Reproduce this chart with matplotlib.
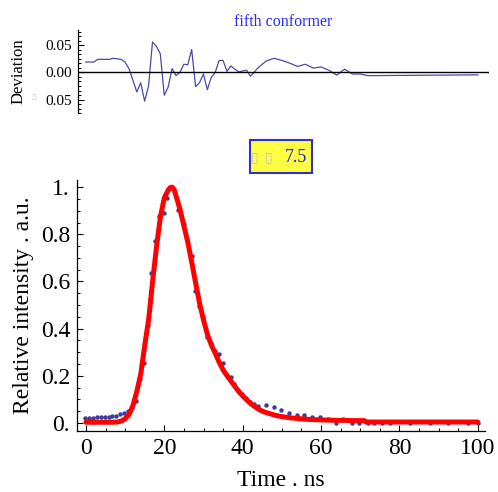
import matplotlib
matplotlib.use("Agg")
import matplotlib.pyplot as plt
from matplotlib.ticker import MultipleLocator
from matplotlib.patches import Rectangle

plt.rcParams['font.family'] = ['Liberation Serif', 'DejaVu Sans']

t_data = [-0.25, 0.75, 1.75, 2.75, 3.75, 4.75, 5.75, 6.75, 7.75, 8.75, 9.75, 10.75,
          11.75, 12.8, 13.75, 14.7, 15.7, 16.5, 17.7, 18.6, 19.8, 20.6, 21.8,
          22.9, 23.6, 24.9, 25.9, 27.0, 27.7, 28.8, 29.8, 30.9, 31.8, 33.0, 33.9,
          34.9, 35.9, 36.9, 37.9, 38.9, 39.9, 40.9, 41.9, 42.9, 43.9,
          45.9, 47.9, 49.8, 51.8, 53.8, 55.7, 57.7, 59.7, 61.7, 63.7, 65.7, 67.8, 69.8,
          71.9, 73.5, 75.5, 77.6, 82.7, 87.8, 92.5, 97.6, 100]
intensity = [0.022, 0.021, 0.021, 0.027, 0.027, 0.027, 0.027, 0.031, 0.031, 0.036,
             0.042, 0.052, 0.062, 0.094, 0.188, 0.256, 0.414, 0.637, 0.771, 0.878,
             0.891, 0.953, 0.998, 0.960, 0.905, 0.843, 0.775, 0.708, 0.561, 0.496,
             0.450, 0.363, 0.338, 0.306, 0.292, 0.256, 0.205, 0.194, 0.165, 0.140,
             0.123, 0.105, 0.088, 0.082, 0.072,
             0.075, 0.069, 0.055, 0.041, 0.032, 0.032, 0.024, 0.024, 0.016, 0.000,
             0.016, 0.000, 0.000, -0.002, -0.002, -0.002, -0.002, -0.002, -0.002,
             -0.002, -0.002, -0.002]

# fitted curve (red)
t_fit = [0, 2, 4, 6, 8, 9, 10, 11, 12, 13, 14, 15, 16, 17, 18, 19, 20, 21, 21.5, 22,
         22.5, 23, 24, 25, 26, 27, 28, 29, 30, 31, 32, 33, 34, 35, 36, 37, 38, 39, 40,
         41, 42, 43, 44, 45, 46, 47, 48, 49, 50, 52, 54, 56, 58, 60, 62, 64, 66, 68,
         70, 71, 71.5, 75, 80, 85, 90, 95, 100]
fit = [0.003, 0.003, 0.003, 0.003, 0.004, 0.008, 0.018, 0.036, 0.075, 0.135, 0.210,
       0.330, 0.440, 0.600, 0.747, 0.875, 0.955, 0.988, 0.998, 1.000,
       0.990, 0.962, 0.905, 0.835, 0.765, 0.680, 0.592, 0.507, 0.436, 0.375, 0.330,
       0.295, 0.257, 0.225, 0.200, 0.178, 0.155, 0.133, 0.115,
       0.098, 0.083, 0.070, 0.059, 0.050, 0.044, 0.039, 0.034, 0.030, 0.027, 0.022,
       0.019, 0.016, 0.014, 0.013, 0.012, 0.011, 0.011, 0.010,
       0.010, 0.010, 0.004, 0.004, 0.004, 0.004, 0.004, 0.004, 0.004]

# residuals (top panel)
t_dev = list(range(0, 39)) + [39, 41, 42, 43, 44, 46, 48, 50, 52, 54, 56, 58, 60,
                              62, 64, 66, 68, 70, 72, 100]
deviation = [0.019, 0.019, 0.019, 0.024, 0.024, 0.024, 0.024, 0.026, 0.025, 0.024,
             0.019, 0.007, -0.014, -0.036, -0.019, -0.053, -0.025, 0.056, 0.048, 0.034,
             -0.042, -0.027, 0.007, -0.006, 0.000, 0.015, 0.014, 0.042, -0.026, -0.019,
             -0.003, -0.032, -0.009, 0.000, 0.022, 0.022, 0.002, 0.012, 0.006,
             0.001, 0.004, -0.007, 0.001, 0.009, 0.021, 0.026, 0.022, 0.017, 0.011,
             0.015, 0.008, 0.010, 0.004, -0.005, 0.006, -0.003, -0.003, -0.006, -0.0045]

x_ticks = [0, 20, 40, 60, 80, 100]
y_ticks = [0, 0.2, 0.4, 0.6, 0.8, 1.0]
y_tick_labels = ["0.", "0.2", "0.4", "0.6", "0.8", "1."]
dev_ticks = [-0.05, 0.0, 0.05]
dev_tick_labels = ["0.05", "0.00", "0.05"]

dot_blue = '#3c3c9c'
line_blue = '#4a4aa8'

fig = plt.figure(figsize=(4.98, 4.92), dpi=100)

# ---- deviation panel
ax_d = fig.add_axes([0.1566, 0.770, 0.825, 0.169])
ax_d.plot(t_dev, deviation, color=line_blue, lw=0.9)
ax_d.axhline(0, color='black', lw=1.0)
ax_d.set_xlim(-2.0, 102.8)
ax_d.set_ylim(-0.075, 0.078)
for s in ['top', 'right', 'bottom']:
    ax_d.spines[s].set_visible(False)
ax_d.spines['left'].set_linewidth(0.9)
ax_d.set_xticks([])
ax_d.set_yticks(dev_ticks, dev_tick_labels)
ax_d.yaxis.set_minor_locator(MultipleLocator(0.05 / 6))
ax_d.tick_params(axis='y', which='major', direction='in', length=4, width=0.8,
                 labelsize=11, pad=4.5)
ax_d.tick_params(axis='y', which='minor', direction='in', length=2, width=0.7)
ax_d.set_ylabel('Deviation', fontsize=12)
ax_d.yaxis.set_label_coords(-0.125, 0.5)
ax_d.set_title('fifth conformer', color='#2a2aff', fontsize=11.5, pad=3)
fig.text(34 / 498, 1 - 97 / 492, '\u25af', color='#c8c8c8', fontsize=6,
         family='DejaVu Sans', ha='center', va='center')

# ---- parameter box
fig.patches.append(Rectangle((250 / 498, 1 - 173 / 492), 62 / 498, 33 / 492,
                             transform=fig.transFigure, facecolor='#ffff44',
                             edgecolor='#3030d0', lw=1.5))
fig.text(255 / 498, 1 - 157 / 492, '\u25af', color='#c0c0c0', fontsize=10,
         family='DejaVu Sans', ha='center', va='center')
fig.text(269 / 498, 1 - 157 / 492, '\u25af', color='#c0c0c0', fontsize=10,
         family='DejaVu Sans', ha='center', va='center')
fig.text(296 / 498, 1 - 157 / 492, '7.5', color='#2020d0', fontsize=13,
         ha='center', va='center')

# ---- main decay panel
ax = fig.add_axes([0.1546, 0.124, 0.819, 0.510])
ax.plot(t_data, intensity, 'o', color=dot_blue, ms=3.2, mec='none', zorder=2)
ax.plot(t_fit, fit, '-', color='red', lw=3.6, zorder=3, solid_capstyle='round')
ax.set_xlim(-2.3, 101.8)
ax.set_ylim(-0.034, 1.03)
for s in ['top', 'right']:
    ax.spines[s].set_visible(False)
ax.spines['left'].set_linewidth(0.9)
ax.spines['bottom'].set_linewidth(0.9)
ax.set_xticks(x_ticks)
ax.set_yticks(y_ticks, y_tick_labels)
ax.xaxis.set_minor_locator(MultipleLocator(5))
ax.yaxis.set_minor_locator(MultipleLocator(0.05))
ax.tick_params(which='major', direction='in', length=4.5, width=0.8,
               labelsize=17, pad=5)
ax.tick_params(which='minor', direction='in', length=2.5, width=0.7)
ax.set_xlabel('Time . ns', fontsize=17)
ax.set_ylabel('Relative intensity . a.u.', fontsize=17)
ax.xaxis.set_label_coords(0.5, -0.155)
ax.yaxis.set_label_coords(-0.105, 0.5)

fig.savefig('out.png', dpi=100)
